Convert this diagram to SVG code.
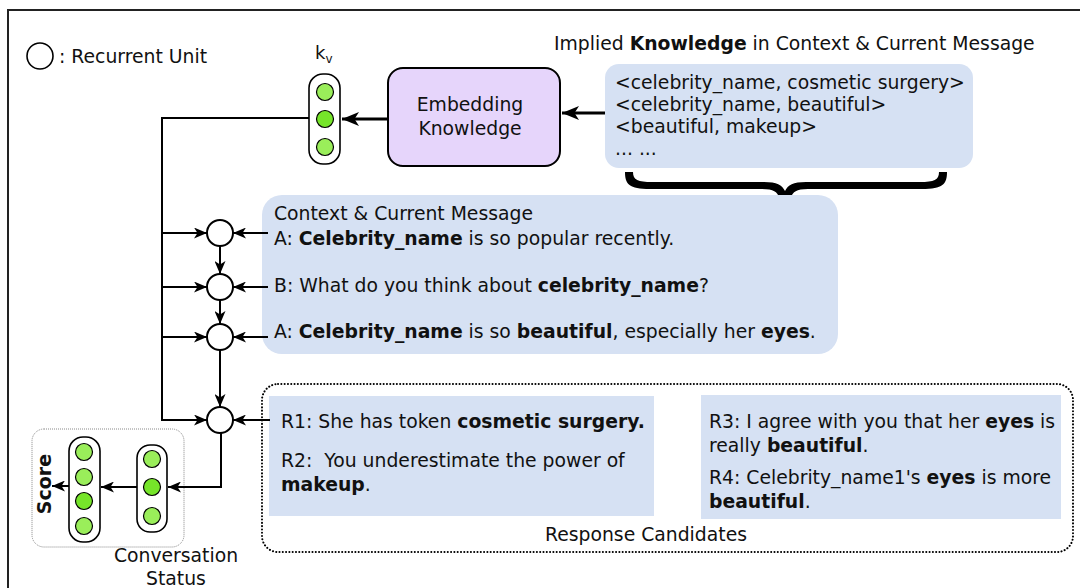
<svg xmlns="http://www.w3.org/2000/svg" width="1080" height="588" viewBox="0 0 1080 588">
<defs>
<style>
text{font-family:"DejaVu Sans","Liberation Sans",sans-serif;font-size:18.8px;fill:#111}
.b{font-weight:bold}
.blue{fill:#d6e1f3;stroke:none}
.vec{fill:#fff;stroke:#000;stroke-width:1.6}
.g1{fill:#9aee5a;stroke:#000;stroke-width:1.2}
.g2{fill:#76e52a;stroke:#000;stroke-width:1.2}
.unit{fill:#fff;stroke:#000;stroke-width:2}
.con{fill:none;stroke:#000;stroke-width:2}
.thick{fill:none;stroke:#000;stroke-width:3.2}
</style>
<marker id="ah" markerUnits="userSpaceOnUse" markerWidth="14" markerHeight="11" refX="13" refY="5.5" orient="auto">
<path d="M0,0 L13,5.5 L0,11 L3.5,5.5 z" fill="#000"/>
</marker>
<marker id="ahb" markerUnits="userSpaceOnUse" markerWidth="18" markerHeight="14" refX="17" refY="7" orient="auto">
<path d="M0,0 L17,7 L0,14 L4.5,7 z" fill="#000"/>
</marker>
</defs>
<rect x="8" y="10" width="1100" height="600" fill="none" stroke="#222" stroke-width="2"/>

<g id="legend">
<circle cx="40" cy="56" r="13" fill="#fff" stroke="#000" stroke-width="1.6"/>
<text x="59" y="63">: Recurrent Unit</text>
</g>

<g id="kv">
<text x="315" y="59" style="font-size:18px">k<tspan dy="4" style="font-size:12px">v</tspan></text>
<rect class="vec" x="309" y="74" width="31" height="90" rx="14"/>
<circle class="g1" cx="325" cy="92" r="8.5"/>
<circle class="g2" cx="325" cy="119" r="8.5"/>
<circle class="g1" cx="325" cy="147" r="8.5"/>
</g>

<g id="embedding">
<rect x="388" y="68" width="172" height="98" rx="15" fill="#e6d5fb" stroke="#000" stroke-width="2"/>
<text x="470" y="111" text-anchor="middle">Embedding</text>
<text x="470" y="135" text-anchor="middle">Knowledge</text>
</g>

<g id="knowledge">
<text x="554" y="50">Implied <tspan class="b">Knowledge</tspan> in Context &amp; Current Message</text>
<rect class="blue" x="605" y="64" width="368" height="104" rx="14"/>
<text x="615" y="89">&lt;celebrity_name, cosmetic surgery&gt;</text>
<text x="615" y="111">&lt;celebrity_name, beautiful&gt;</text>
<text x="615" y="133">&lt;beautiful, makeup&gt;</text>
<text x="615" y="155">... ...</text>
<path d="M625,172 L633,172 C633,180 638,182 652,182 L764,182 C777,182 782,185 785,191 C788,185 793,182 806,182 L920,182 C934,182 939,180 939,172 L947,172 C947,184 943,189 922,189 L808,189 C796,189 793,192 791,197 L779,197 C777,192 774,189 762,189 L650,189 C629,189 625,184 625,172 z" fill="#000"/>
</g>

<g id="context">
<rect class="blue" x="262" y="195" width="576" height="159" rx="20"/>
<text x="274" y="220">Context &amp; Current Message</text>
<text x="274" y="245">A: <tspan class="b">Celebrity_name</tspan> is so popular recently.</text>
<text x="274" y="292">B: What do you think about <tspan class="b">celebrity_name</tspan>?</text>
<text x="274" y="338">A: <tspan class="b">Celebrity_name</tspan> is so <tspan class="b">beautiful</tspan>, especially her <tspan class="b">eyes</tspan>.</text>
</g>

<g id="units">
<circle class="unit" cx="220" cy="233" r="13"/>
<circle class="unit" cx="220" cy="287" r="13"/>
<circle class="unit" cx="220" cy="337" r="13"/>
<circle class="unit" cx="220" cy="420" r="13"/>
</g>

<g id="candidates">
<rect x="262" y="384" width="811" height="168" rx="16" fill="none" stroke="#000" stroke-width="2" stroke-dasharray="0.1 3.2" stroke-linecap="round"/>
<rect class="blue" x="269" y="396" width="385" height="120"/>
<rect class="blue" x="701" y="395" width="360" height="124"/>
<text x="281" y="428">R1: She has token <tspan class="b">cosmetic surgery.</tspan></text>
<text x="281" y="467" xml:space="preserve">R2:  You underestimate the power of</text>
<text x="281" y="491"><tspan class="b">makeup</tspan>.</text>
<text x="709" y="428">R3: I agree with you that her <tspan class="b">eyes</tspan> is</text>
<text x="709" y="452">really <tspan class="b">beautiful</tspan>.</text>
<text x="709" y="484">R4: Celebrity_name1's <tspan class="b">eyes</tspan> is more</text>
<text x="709" y="508"><tspan class="b">beautiful</tspan>.</text>
<text x="545" y="541">Response Candidates</text>
</g>

<g id="status">
<rect x="32" y="429" width="152" height="118" rx="12" fill="none" stroke="#888" stroke-width="1" stroke-dasharray="1 1"/>
<rect class="vec" x="137" y="445" width="30" height="87" rx="13"/>
<circle class="g1" cx="152" cy="459" r="8.5"/>
<circle class="g2" cx="152" cy="487" r="8.5"/>
<circle class="g1" cx="152" cy="516" r="8.5"/>
<text x="176" y="562" text-anchor="middle">Conversation</text>
<text x="176" y="585" text-anchor="middle">Status</text>
</g>

<g id="score">
<rect class="vec" x="69" y="437" width="31" height="105" rx="14"/>
<circle class="g1" cx="84" cy="452" r="8.5"/>
<circle class="g1" cx="84" cy="477" r="8.5"/>
<circle class="g2" cx="84" cy="501" r="8.5"/>
<circle class="g1" cx="84" cy="526" r="8.5"/>
<text class="b" x="0" y="0" text-anchor="middle" transform="translate(51,484) rotate(-90)" style="font-size:19px">Score</text>
</g>

<g id="connectors">
<line class="thick" x1="605" y1="113" x2="562" y2="113" marker-end="url(#ahb)"/>
<line class="thick" x1="388" y1="119" x2="342" y2="119" marker-end="url(#ahb)"/>
<polyline class="con" points="309,118 162,118 162,420"/>
<line class="con" x1="161" y1="233" x2="207" y2="233" marker-end="url(#ah)"/>
<line class="con" x1="161" y1="287" x2="207" y2="287" marker-end="url(#ah)"/>
<line class="con" x1="161" y1="337" x2="207" y2="337" marker-end="url(#ah)"/>
<line class="con" x1="161" y1="420" x2="207" y2="420" marker-end="url(#ah)"/>
<line class="con" x1="268" y1="233" x2="233" y2="233" marker-end="url(#ah)"/>
<line class="con" x1="268" y1="287" x2="233" y2="287" marker-end="url(#ah)"/>
<line class="con" x1="268" y1="337" x2="233" y2="337" marker-end="url(#ah)"/>
<line class="con" x1="270" y1="420" x2="233" y2="420" marker-end="url(#ah)"/>
<line class="con" x1="220" y1="246" x2="220" y2="274" marker-end="url(#ah)"/>
<line class="con" x1="220" y1="300" x2="220" y2="324" marker-end="url(#ah)"/>
<line class="con" x1="220" y1="350" x2="220" y2="407" marker-end="url(#ah)"/>
<polyline class="con" points="221,433 221,487 168,487" marker-end="url(#ah)"/>
<line class="con" x1="137" y1="487" x2="101" y2="487" marker-end="url(#ah)"/>
<line class="con" x1="69" y1="486" x2="52" y2="486" marker-end="url(#ah)"/>
</g>
</svg>
